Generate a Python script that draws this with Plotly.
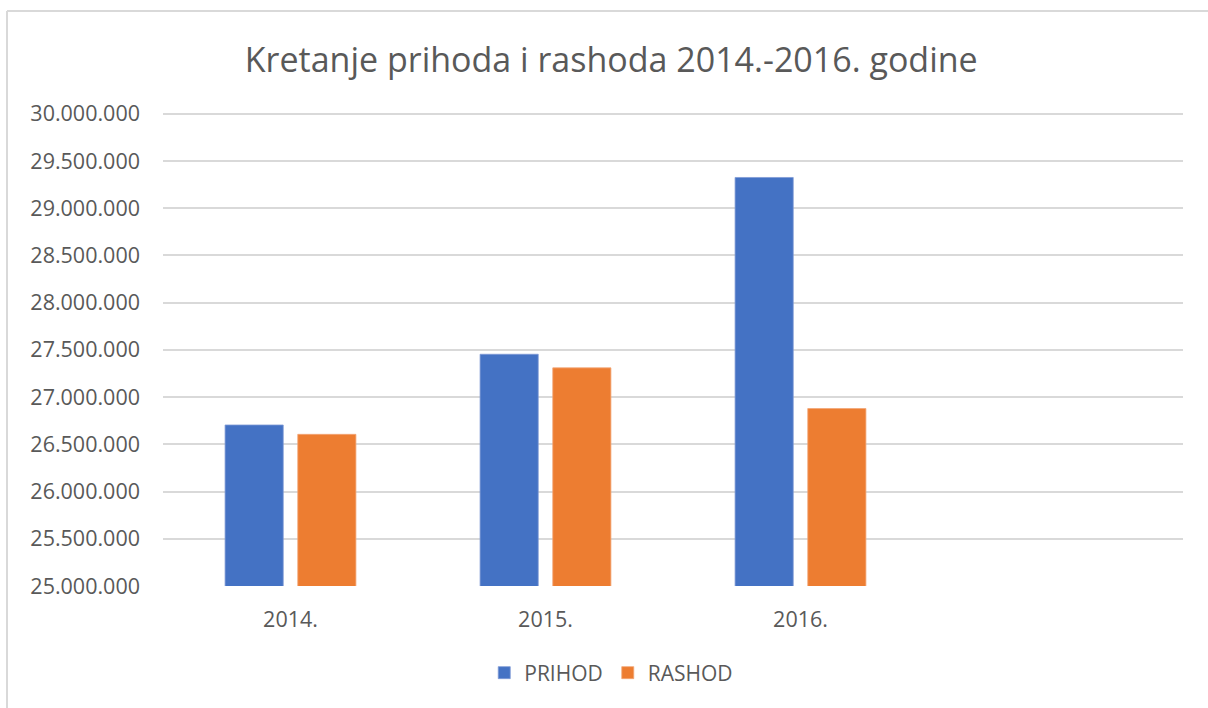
import plotly.graph_objects as go

# data
godine = ["2014.", "2015.", "2016."]
prihod = [26705000, 27454000, 29326000]
rashod = [26606000, 27310000, 26879000]
y_ticks = list(range(25000000, 30000001, 500000))
y_tick_text = [f"{v:,}".replace(",", ".") for v in y_ticks]

FONT = "Open Sans"
GREY = "#595959"

fig = go.Figure()
fig.add_trace(go.Bar(x=godine, y=prihod, name="PRIHOD",
                     marker=dict(color="#4472C4",
                                 line=dict(color="#7f9ad6", width=0.8))))
fig.add_trace(go.Bar(x=godine, y=rashod, name="RASHOD",
                     marker=dict(color="#ED7D31",
                                 line=dict(color="#f3a676", width=0.8))))

fig.update_layout(
    width=1208, height=708,
    margin=dict(l=163, r=25, t=111, b=122),
    paper_bgcolor="white", plot_bgcolor="white",
    font=dict(family=FONT, color=GREY),
    title=dict(text="Kretanje prihoda i rashoda 2014.-2016. godine",
               x=0.506, xanchor="center", xref="container",
               y=1 - 60 / 708, yanchor="middle", yref="container",
               font=dict(family=FONT, size=34, color=GREY)),
    barmode="group", bargap=0.43, bargroupgap=0.2,
    showlegend=True,
    legend=dict(orientation="h", x=0.506, xanchor="center", xref="container",
                y=1 - 673 / 708, yanchor="middle", yref="container",
                font=dict(size=21, color=GREY), itemwidth=30,
                traceorder="normal"),
)

fig.update_xaxes(type="category", range=[-0.5, 3.5], showgrid=False,
                 showline=False, zeroline=False, ticks="",
                 tickfont=dict(size=21.5, color=GREY), ticklabelstandoff=18)
# range runs a little past 30M so that gridline is not dropped at the edge
fig.update_yaxes(range=[25000000, 30030000], tickvals=y_ticks,
                 ticktext=y_tick_text, showgrid=True, gridcolor="#d9d9d9",
                 gridwidth=1.5, zeroline=False, showline=False, ticks="",
                 tickfont=dict(size=21.5, color=GREY), ticklabelstandoff=22)

# chart frame (left and top edges visible in the reference), in pixels
H = 708 - 111 - 122
def py(pix):
    return (708 - 122 - pix) / H

fig.add_shape(type="line", xref="paper", yref="paper",
              x0=(7 - 163) / 1020, x1=(7 - 163) / 1020,
              y0=py(11), y1=py(720),
              line=dict(color="#d9d9d9", width=2))
fig.add_shape(type="line", xref="paper", yref="paper",
              x0=(7 - 163) / 1020, x1=(1220 - 163) / 1020,
              y0=py(11), y1=py(11),
              line=dict(color="#d9d9d9", width=2))

# page has a default 8px body margin; drop it so the figure sits at 0,0
fig.write_html("out.html", config={"displayModeBar": False},
               post_script="document.body.style.margin='0';"
                           "document.body.style.overflow='hidden';")
